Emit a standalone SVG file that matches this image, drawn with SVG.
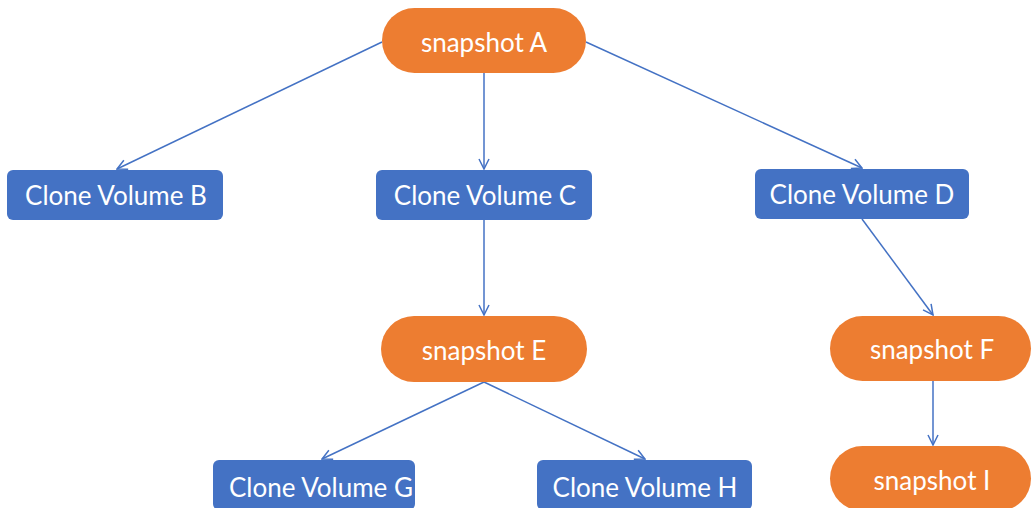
<svg xmlns="http://www.w3.org/2000/svg" width="1032" height="508" viewBox="0 0 1032 508">
<style>
.snap{fill:#ED7D31}
.clone{fill:#4472C4}
.t{fill:#fff;font-family:Lato,"Open Sans",sans-serif;font-size:26px;text-anchor:middle;dominant-baseline:central}
.c{stroke:#4472C4;stroke-width:1.5;fill:none;marker-end:url(#arr)}
</style>
<defs>
<marker id="arr" viewBox="0 0 12 12" refX="11" refY="6" markerWidth="12" markerHeight="12" markerUnits="userSpaceOnUse" orient="auto">
<polyline points="1,1 11,6 1,11" fill="none" stroke="#4472C4" stroke-width="1.5"/>
</marker>
</defs>
<rect width="1032" height="508" fill="#fff"/>
<g id="connectors">
<line class="c" x1="382" y1="42" x2="117" y2="169"/>
<line class="c" x1="484" y1="73" x2="484" y2="169"/>
<line class="c" x1="586" y1="42" x2="862" y2="168"/>
<line class="c" x1="484" y1="220" x2="484" y2="315"/>
<line class="c" x1="862" y1="219" x2="933" y2="315"/>
<line class="c" x1="484" y1="382" x2="322" y2="459"/>
<line class="c" x1="484" y1="382" x2="645" y2="459"/>
<line class="c" x1="933" y1="381" x2="933" y2="445"/>
</g>
<g id="snapshotA"><rect class="snap" x="382" y="8" width="204" height="65" rx="32.5"/><text class="t" x="484" y="42">snapshot A</text></g>
<g id="cloneB"><rect class="clone" x="7" y="170" width="216" height="50" rx="6"/><text class="t" x="116" y="195">Clone Volume B</text></g>
<g id="cloneC"><rect class="clone" x="376" y="170" width="216" height="50" rx="6"/><text class="t" x="485" y="195">Clone Volume C</text></g>
<g id="cloneD"><rect class="clone" x="755" y="169" width="214" height="50" rx="6"/><text class="t" x="862" y="194">Clone Volume D</text></g>
<g id="snapshotE"><rect class="snap" x="381" y="316" width="206" height="66" rx="33"/><text class="t" x="484" y="350">snapshot E</text></g>
<g id="snapshotF"><rect class="snap" x="830" y="316" width="201" height="65" rx="32.5"/><text class="t" x="932" y="349">snapshot F</text></g>
<g id="snapshotI"><rect class="snap" x="830" y="446" width="201" height="65" rx="32.5"/><text class="t" x="932" y="480">snapshot I</text></g>
<g id="cloneG"><rect class="clone" x="213" y="460" width="202" height="50" rx="6"/><text class="t" x="321" y="487">Clone Volume G</text></g>
<g id="cloneH"><rect class="clone" x="537" y="460" width="215" height="50" rx="6"/><text class="t" x="645" y="487">Clone Volume H</text></g>
</svg>
